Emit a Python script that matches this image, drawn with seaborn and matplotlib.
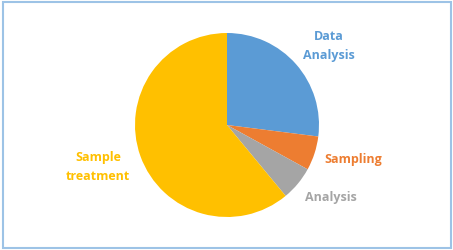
import matplotlib
matplotlib.use("Agg")
import matplotlib.pyplot as plt
import seaborn as sns
from matplotlib.patches import Rectangle

categories = ["Data\nAnalysis", "Sampling", "Analysis", "Sample\ntreatment"]
values = [27, 6, 6, 61]
colors = ["#5B9BD5", "#ED7D31", "#A5A5A5", "#FFC000"]

sns.set_theme(style="white")
plt.rcParams['font.family'] = ['Open Sans', 'DejaVu Sans']

W, H = 453, 251
fig = plt.figure(figsize=(W / 100, H / 100), dpi=100)
ax = fig.add_axes([0, 0, 1, 1])

ax.pie(values, colors=colors, startangle=90, counterclock=False,
       center=(227, H - 126), radius=92, frame=True,
       wedgeprops=dict(linewidth=0))
ax.set_xlim(0, W)
ax.set_ylim(0, H)
ax.set_aspect("auto")
ax.axis("off")

label_pos = [(329, H - 46), (353, H - 160), (331, H - 198), (98, H - 167)]
for lab, col, (x, y) in zip(categories, colors, label_pos):
    ax.text(x, y, lab, color=col, fontsize=9, fontweight="bold",
            ha="center", va="center", linespacing=1.5)

ax.add_patch(Rectangle((2.5, 2.5), W - 5, H - 5, fill=False,
                       edgecolor="#9DC3E6", linewidth=1.5))

fig.savefig("out.png", dpi=100)
